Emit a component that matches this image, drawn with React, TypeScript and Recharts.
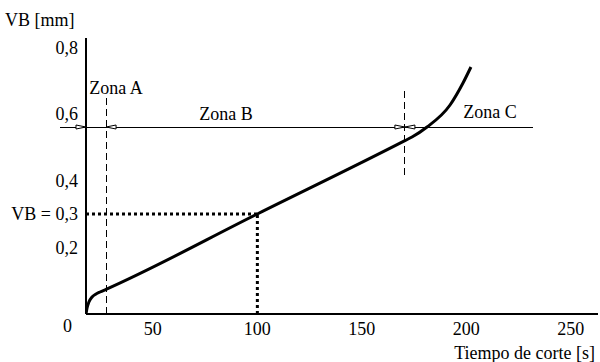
import React from 'react';
import {
  ComposedChart,
  Line,
  XAxis,
  YAxis,
  ReferenceLine,
  ReferenceDot,
  Label,
} from 'recharts';

// wear curve VB vs cutting time
const tiempo = [18, 18.5, 19.4, 20.9, 22.8, 24.7, 27.6, 100, 170.6, 174, 181.2, 192.2, 198.4, 202.2];
const desgaste = [0, 0.018, 0.036, 0.051, 0.06, 0.066, 0.074, 0.3, 0.52, 0.531, 0.561, 0.627, 0.693, 0.741];

const xTicks = [50, 100, 150, 200, 250];
const yTicks = [0, 0.2, 0.3, 0.4, 0.6, 0.8];

// zone limits
const zonaLimites = [27.6, 170.6];
const zonaNivel = 0.561;
const vbCriterio = 0.3;
const tCriterio = 100;

const zonas = [
  { nombre: 'Zona A', t: 32.4, vb: 0.678 },
  { nombre: 'Zona B', t: 85, vb: 0.6 },
  { nombre: 'Zona C', t: 211.3, vb: 0.606 },
];

// arrowheads on the horizontal zone line: tip position and direction
const flechas = [
  { t: 18, dir: 1 },
  { t: 27.6, dir: -1 },
  { t: 170.6, dir: 1 },
  { t: 170.6, dir: -1 },
];

const data = tiempo.map((t, i) => ({ t, vb: desgaste[i] }));

const FONT = '"Liberation Serif", "Times New Roman", serif';
const FS = 18;

const fmt = (v: number) => String(v).replace('.', ',');

const YTick = (props: any) => {
  const { x, y, payload } = props;
  const v = payload.value;
  if (v === 0) {
    return (
      <text x={x - 6} y={y + 12} textAnchor="end" dy="0.355em" fontFamily={FONT} fontSize={FS} fill="#000">
        0
      </text>
    );
  }
  const txt = v === 0.3 ? 'VB = 0,3' : fmt(v);
  return (
    <text x={x} y={y} textAnchor="end" dy="0.355em" fontFamily={FONT} fontSize={FS} fill="#000">
      {txt}
    </text>
  );
};

const Flecha = (dir: number) => (props: any) => {
  const { cx, cy } = props;
  if (cx == null || cy == null) return <g />;
  const L = 10;
  const h = 2;
  const pts = `${cx},${cy} ${cx - dir * L},${cy - h} ${cx - dir * L},${cy + h}`;
  return <polygon points={pts} fill="#fff" stroke="#000" strokeWidth={1} />;
};

const Texto = (txt: string) => (props: any) => {
  const { cx, cy } = props;
  if (cx == null || cy == null) return <g />;
  return (
    <text x={cx} y={cy} textAnchor="middle" dy="0.355em" fontFamily={FONT} fontSize={FS} fill="#000">
      {txt}
    </text>
  );
};

export default function App() {
  return (
    <div style={{ position: 'absolute', left: 0, top: 0, background: '#fff' }}>
      <ComposedChart width={600} height={362} data={data} margin={{ top: 38, right: 2, bottom: 0, left: 0 }}>
        <XAxis
          dataKey="t"
          type="number"
          domain={[18, 263]}
          ticks={xTicks}
          tickLine={false}
          axisLine={{ stroke: '#000', strokeWidth: 2 }}
          height={48}
          tick={{ fill: '#000', fontFamily: FONT, fontSize: FS }}
          allowDataOverflow
        >
          <Label
            value="Tiempo de corte [s]"
            position="insideBottomRight"
            offset={3}
            fill="#000"
            fontFamily={FONT}
            fontSize={FS}
          />
        </XAxis>
        <YAxis
          type="number"
          domain={[0, 0.828]}
          ticks={yTicks}
          tickLine={false}
          axisLine={{ stroke: '#000', strokeWidth: 2 }}
          width={86}
          tick={<YTick />}
          allowDataOverflow
        >
          <Label
            content={() => (
              <text x={5} y={26} fontFamily={FONT} fontSize={FS} fill="#000">
                VB [mm]
              </text>
            )}
          />
        </YAxis>

        {/* horizontal zone line */}
        <ReferenceLine
          segment={[{ x: 5.6, y: zonaNivel }, { x: 231.9, y: zonaNivel }]}
          stroke="#000"
          strokeWidth={1}
          shapeRendering="crispEdges"
          ifOverflow="visible"
        />
        {/* zone limits */}
        <ReferenceLine
          segment={[{ x: zonaLimites[0], y: 0 }, { x: zonaLimites[0], y: 0.654 }]}
          stroke="#000"
          strokeWidth={1}
          strokeDasharray="7 4"
          shapeRendering="crispEdges"
          ifOverflow="visible"
        />
        <ReferenceLine
          segment={[{ x: zonaLimites[1], y: 0.417 }, { x: zonaLimites[1], y: 0.681 }]}
          stroke="#000"
          strokeWidth={1}
          strokeDasharray="7 4"
          shapeRendering="crispEdges"
          ifOverflow="visible"
        />
        {/* VB = 0,3 criterion */}
        <ReferenceLine
          segment={[{ x: 18, y: vbCriterio }, { x: tCriterio, y: vbCriterio }]}
          stroke="#000"
          strokeWidth={3}
          strokeDasharray="3 3"
          ifOverflow="visible"
        />
        <ReferenceLine
          segment={[{ x: tCriterio, y: 0 }, { x: tCriterio, y: vbCriterio }]}
          stroke="#000"
          strokeWidth={3}
          strokeDasharray="3 3"
          ifOverflow="visible"
        />

        {flechas.map((f, i) => (
          <ReferenceDot key={'f' + i} x={f.t} y={zonaNivel} r={1} shape={Flecha(f.dir)} ifOverflow="visible" />
        ))}
        {zonas.map((z) => (
          <ReferenceDot key={z.nombre} x={z.t} y={z.vb} r={1} shape={Texto(z.nombre)} ifOverflow="visible" />
        ))}

        <Line
          type="monotone"
          dataKey="vb"
          stroke="#000"
          strokeWidth={3}
          dot={false}
          activeDot={false}
          isAnimationActive={false}
        />
      </ComposedChart>
    </div>
  );
}
